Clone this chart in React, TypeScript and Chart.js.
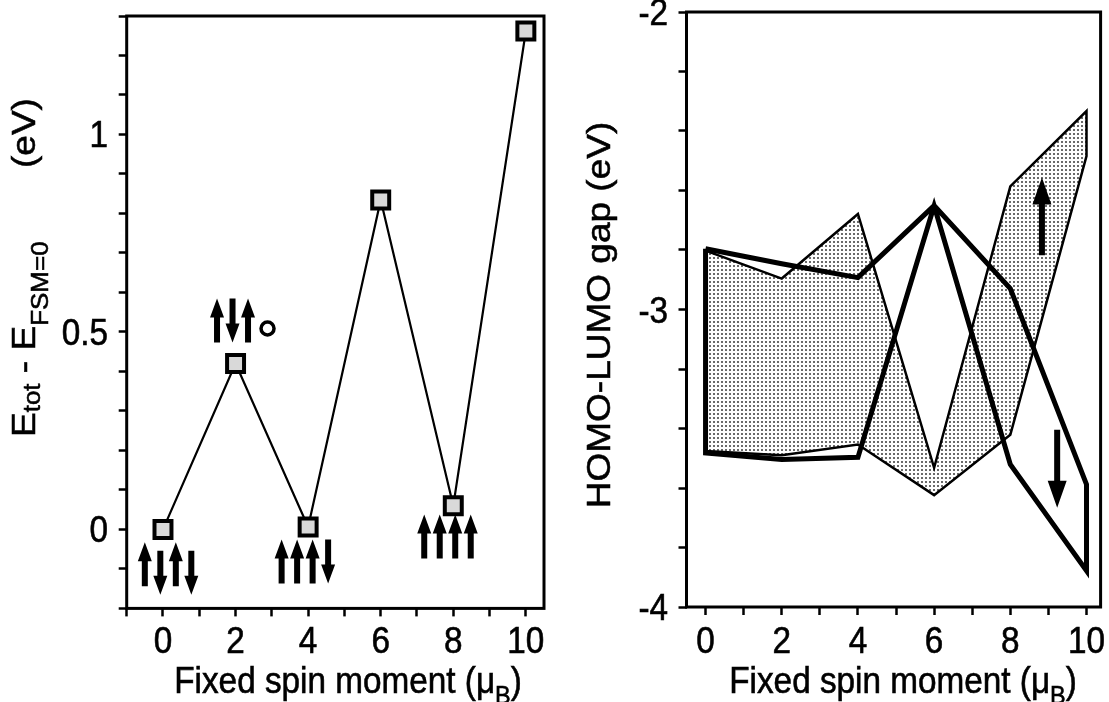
import React, { useEffect, useRef } from 'react';
import { Chart, registerables } from 'chart.js';

Chart.register(...registerables);

const FONT = '"Liberation Sans", Arial, Helvetica, sans-serif';

// ---------------- Left panel data ----------------
const FSM_X = [0, 2, 4, 6, 8, 10];
const ENERGY = [0, 0.42, 0.006, 0.834, 0.06, 1.262];
const LEFT_X_TICKS = [-1, 0, 1, 2, 3, 4, 5, 6, 7, 8, 9, 10];
const LEFT_X_LABEL_VALUES = [0, 2, 4, 6, 8, 10];
const LEFT_X_LABELS = ['0', '2', '4', '6', '8', '10'];
const LEFT_Y_TICKS = [-0.2, -0.1, 0, 0.1, 0.2, 0.3, 0.4, 0.5, 0.6, 0.7, 0.8, 0.9, 1.0, 1.1, 1.2, 1.3];
const LEFT_Y_LABEL_VALUES = [0, 0.5, 1];
const LEFT_Y_LABELS = ['0', '0.5', '1'];

// spin configurations drawn next to the points (U = up, D = down, o = hole)
const SPIN_X = [0.14, 2.13, 3.91, 7.84];
const SPIN_Y = [-0.088, 0.529, -0.081, -0.018];
const SPIN_SYMBOLS = ['UDUD', 'UDUo', 'UUUD', 'UUUU'];

// ---------------- Right panel data ----------------
const GAP_X = [0, 2, 4, 6, 8, 10];
const THIN_UPPER = [-2.802, -2.896, -2.679, -3.532, -2.586, -2.333];
const THIN_LOWER = [-3.476, -3.49, -3.454, -3.624, -3.421, -2.484];
const THICK_UPPER = [-2.796, -2.846, -2.893, -2.651, -2.93, -3.588];
const THICK_LOWER = [-3.482, -3.504, -3.497, -2.651, -3.521, -3.878];
const RIGHT_X_TICKS = [0, 1, 2, 3, 4, 5, 6, 7, 8, 9, 10];
const RIGHT_X_LABEL_VALUES = [0, 2, 4, 6, 8, 10];
const RIGHT_X_LABELS = ['0', '2', '4', '6', '8', '10'];
const RIGHT_Y_TICKS = [-4, -3.8, -3.6, -3.4, -3.2, -3, -2.8, -2.6, -2.4, -2.2, -2];
const RIGHT_Y_LABEL_VALUES = [-4, -3, -2];
const RIGHT_Y_LABELS = ['-4', '-3', '-2'];
const SPIN_ARROW_X = [8.83, 9.23];
const SPIN_ARROW_FROM = [-2.818, -3.404];
const SPIN_ARROW_TO = [-2.556, -3.666];

// ---------------- helpers ----------------
const STRETCH = 0.9; // horizontal (screen) scale of all text
const FS = 37; // main font size
const FS_SUB = 26; // subscript font size

type Part = { t: string; size: number; dy?: number };

function drawText(
  ctx: CanvasRenderingContext2D,
  parts: Part[],
  x: number,
  y: number,
  align: 'left' | 'center' | 'right',
  rotated: boolean,
) {
  ctx.save();
  ctx.translate(x, y);
  ctx.scale(STRETCH, 1);
  if (rotated) ctx.rotate(-Math.PI / 2);
  ctx.textAlign = 'left';
  ctx.textBaseline = 'alphabetic';
  ctx.fillStyle = '#000';
  ctx.strokeStyle = '#000';
  ctx.lineWidth = 0.6;
  let total = 0;
  for (const p of parts) {
    ctx.font = `${p.size}px ${FONT}`;
    total += ctx.measureText(p.t).width;
  }
  let cx = align === 'center' ? -total / 2 : align === 'right' ? -total : 0;
  for (const p of parts) {
    ctx.font = `${p.size}px ${FONT}`;
    ctx.fillText(p.t, cx, p.dy || 0);
    ctx.strokeText(p.t, cx, p.dy || 0);
    cx += ctx.measureText(p.t).width;
  }
  ctx.restore();
}

function drawArrow(
  ctx: CanvasRenderingContext2D,
  x: number,
  yTail: number,
  yTip: number,
  shaftW: number,
  headW: number,
  headL: number,
) {
  const dir = yTip < yTail ? -1 : 1;
  const yBase = yTip - dir * headL;
  ctx.beginPath();
  ctx.moveTo(x - shaftW / 2, yTail);
  ctx.lineTo(x - shaftW / 2, yBase);
  ctx.lineTo(x - headW / 2, yBase);
  ctx.lineTo(x, yTip);
  ctx.lineTo(x + headW / 2, yBase);
  ctx.lineTo(x + shaftW / 2, yBase);
  ctx.lineTo(x + shaftW / 2, yTail);
  ctx.closePath();
  ctx.fill();
}

function axis(min: number, max: number, ticks: number[], size: number, horizontal: boolean) {
  return {
    type: 'linear' as const,
    min,
    max,
    afterBuildTicks: (scale: any) => {
      scale.ticks = ticks.map((v) => ({ value: v }));
    },
    afterFit: (scale: any) => {
      if (horizontal) scale.height = size;
      else scale.width = size;
      scale.paddingTop = 0;
      scale.paddingBottom = 0;
      scale.paddingLeft = 0;
      scale.paddingRight = 0;
    },
    ticks: { display: false },
    border: { display: false },
    grid: {
      display: true,
      drawOnChartArea: false,
      drawTicks: true,
      tickLength: 8,
      tickWidth: 2.5,
      tickColor: '#000',
      color: '#000',
    },
  };
}

function drawFrame(chart: any) {
  const { ctx, chartArea: a } = chart;
  ctx.save();
  ctx.strokeStyle = '#000';
  ctx.lineWidth = 3;
  ctx.strokeRect(a.left, a.top, a.right - a.left, a.bottom - a.top);
  ctx.restore();
}

function drawTickLabels(
  chart: any,
  xVals: number[],
  xLabels: string[],
  yVals: number[],
  yLabels: string[],
  yLabelRight: number,
) {
  const { ctx, scales } = chart;
  xVals.forEach((v, i) => {
    drawText(ctx, [{ t: xLabels[i], size: FS }], scales.x.getPixelForValue(v), 653, 'center', false);
  });
  yVals.forEach((v, i) => {
    drawText(ctx, [{ t: yLabels[i], size: FS }], yLabelRight, scales.y.getPixelForValue(v) + 13, 'right', false);
  });
}

const X_TITLE: Part[] = [
  { t: 'Fixed spin moment (\u03bc', size: FS },
  { t: 'B', size: FS_SUB, dy: 11 },
  { t: ')', size: FS },
];

export default function App() {
  const leftRef = useRef<HTMLCanvasElement>(null);
  const rightRef = useRef<HTMLCanvasElement>(null);

  useEffect(() => {
    // stipple pattern
    const tile = document.createElement('canvas');
    tile.width = 4;
    tile.height = 4;
    const tctx = tile.getContext('2d')!;
    tctx.fillStyle = '#ffffff';
    tctx.fillRect(0, 0, 4, 4);
    tctx.fillStyle = '#6a6a6a';
    tctx.fillRect(1, 1, 2, 2);
    const pattern = tctx.createPattern(tile, 'repeat')!;

    const leftDecor = {
      id: 'leftDecor',
      afterDraw(chart: any) {
        const { ctx, scales } = chart;
        drawFrame(chart);
        drawTickLabels(chart, LEFT_X_LABEL_VALUES, LEFT_X_LABELS, LEFT_Y_LABEL_VALUES, LEFT_Y_LABELS, 108);
        drawText(ctx, X_TITLE, 348, 693, 'center', false);
        drawText(
          ctx,
          [
            { t: 'E', size: FS },
            { t: 'tot', size: FS_SUB, dy: 6 },
            { t: ' - ', size: FS },
            { t: 'E', size: FS },
            { t: 'FSM=0', size: FS_SUB, dy: 14 },
          ],
          35,
          437,
          'left',
          true,
        );
        drawText(ctx, [{ t: '(eV)', size: FS }], 35, 168, 'left', true);
        // spin configurations
        ctx.save();
        ctx.fillStyle = '#000';
        ctx.strokeStyle = '#000';
        SPIN_SYMBOLS.forEach((syms, g) => {
          const cx = scales.x.getPixelForValue(SPIN_X[g]);
          const cy = scales.y.getPixelForValue(SPIN_Y[g]);
          const n = syms.length;
          const downShift = g === 0 ? 8.5 : 0;
          for (let k = 0; k < n; k++) {
            const px = cx + (k - (n - 1) / 2) * 15.5;
            const s = syms[k];
            if (s === 'U') drawArrow(ctx, px, cy + 22, cy - 22, 6, 14, 19);
            else if (s === 'D') drawArrow(ctx, px, cy - 22 + downShift, cy + 22 + downShift, 6, 14, 19);
            else {
              ctx.beginPath();
              ctx.lineWidth = 3.5;
              ctx.arc(px + 4, cy + 8, 6.5, 0, Math.PI * 2);
              ctx.stroke();
            }
          }
        });
        ctx.restore();
      },
    };

    const rightDecor = {
      id: 'rightDecor',
      afterDraw(chart: any) {
        const { ctx, scales } = chart;
        drawFrame(chart);
        drawTickLabels(chart, RIGHT_X_LABEL_VALUES, RIGHT_X_LABELS, RIGHT_Y_LABEL_VALUES, RIGHT_Y_LABELS, 108);
        drawText(ctx, X_TITLE, 343, 693, 'center', false);
        drawText(ctx, [{ t: 'HOMO-LUMO gap (eV)', size: FS }], 50, 315, 'center', true);
        ctx.save();
        ctx.fillStyle = '#000';
        SPIN_ARROW_X.forEach((x, i) => {
          drawArrow(
            ctx,
            scales.x.getPixelForValue(x),
            scales.y.getPixelForValue(SPIN_ARROW_FROM[i]),
            scales.y.getPixelForValue(SPIN_ARROW_TO[i]),
            6,
            19,
            27,
          );
        });
        ctx.restore();
      },
    };

    const common = {
      responsive: false,
      animation: false as const,
      devicePixelRatio: 1,
      events: [] as any[],
      plugins: { legend: { display: false }, tooltip: { enabled: false }, title: { display: false } },
    };

    const left = new Chart(leftRef.current!, {
      type: 'line',
      data: {
        datasets: [
          {
            data: FSM_X.map((x, i) => ({ x, y: ENERGY[i] })),
            borderColor: '#000',
            borderWidth: 2.2,
            pointStyle: 'rect',
            pointRadius: 12,
            pointBackgroundColor: '#d9d9d9',
            pointBorderColor: '#000',
            pointBorderWidth: 4,
            tension: 0,
            fill: false,
          },
        ],
      },
      options: {
        ...common,
        layout: { padding: { left: 0, top: 13, right: 15.5, bottom: 0 } },
        scales: {
          x: axis(-1, 10.5, LEFT_X_TICKS, 93.6, true),
          y: axis(-0.2, 1.3, LEFT_Y_TICKS, 126.7, false),
        },
      } as any,
      plugins: [leftDecor],
    });

    const pts = (xs: number[], ys: number[]) => xs.map((x, i) => ({ x, y: ys[i] }));
    const closed = (up: number[], lo: number[]) => {
      const a = pts(GAP_X, up);
      const b = pts(GAP_X, lo).reverse();
      return [...a, ...b, a[0]];
    };

    const right = new Chart(rightRef.current!, {
      type: 'line',
      data: {
        datasets: [
          {
            data: closed(THICK_UPPER, THICK_LOWER),
            borderColor: '#000',
            borderWidth: 5,
            borderJoinStyle: 'miter',
            pointRadius: 0,
            fill: false,
            tension: 0,
          },
          {
            data: closed(THIN_UPPER, THIN_LOWER),
            borderColor: '#000',
            borderWidth: 2.5,
            borderJoinStyle: 'miter',
            pointRadius: 0,
            fill: false,
            tension: 0,
          },
          {
            data: pts(GAP_X, THIN_UPPER),
            borderColor: 'rgba(0,0,0,0)',
            borderWidth: 0,
            backgroundColor: pattern,
            pointRadius: 0,
            fill: '+1',
            tension: 0,
          },
          {
            data: pts(GAP_X, THIN_LOWER),
            borderColor: 'rgba(0,0,0,0)',
            borderWidth: 0,
            pointRadius: 0,
            fill: false,
            tension: 0,
          },
        ],
      },
      options: {
        ...common,
        layout: { padding: { left: 0, top: 12, right: 8.4, bottom: 0 } },
        scales: {
          x: axis(-0.5, 10.37, RIGHT_X_TICKS, 95, true),
          y: axis(-4, -2, RIGHT_Y_TICKS, 126.5, false),
        },
      } as any,
      plugins: [rightDecor],
    });

    return () => {
      left.destroy();
      right.destroy();
    };
  }, []);

  return (
    <div style={{ position: 'fixed', left: 0, top: 0, width: 1109, height: 702, background: '#fff', overflow: 'hidden' }}>
      <canvas
        ref={leftRef}
        width={560}
        height={702}
        style={{ position: 'absolute', left: 0, top: 0, width: 560, height: 702 }}
      />
      <canvas
        ref={rightRef}
        width={549}
        height={702}
        style={{ position: 'absolute', left: 560, top: 0, width: 549, height: 702 }}
      />
    </div>
  );
}
